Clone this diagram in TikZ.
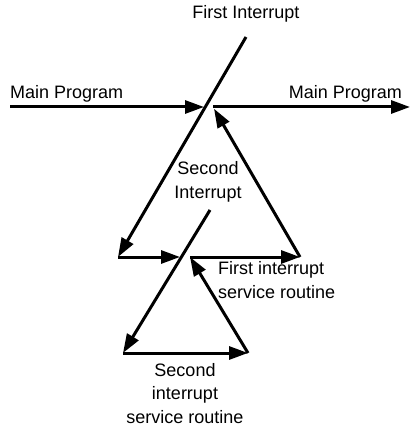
\documentclass[tikz,border=0pt]{standalone}
\usepackage{fontspec}
\setmainfont{Liberation Sans}
\usetikzlibrary{arrows.meta, positioning}

\begin{document}
\begin{tikzpicture}[x=1pt, y=-1pt,
    flow/.style={-{Triangle[length=19pt, width=13pt]}, line width=3pt},
    lbl/.style={font=\fontsize{18}{23.5}\selectfont, inner sep=0pt}]
  \useasboundingbox (0,0) rectangle (414,430);

  % points on the main program and the two routines
  \coordinate (mainIn)   at (10,107);
  \coordinate (int1)     at (204,107);
  \coordinate (resume1)  at (213,107);
  \coordinate (mainOut)  at (410,107);
  \coordinate (int1Top)  at (246,37);
  \coordinate (isr1In)   at (118,257);
  \coordinate (int2)     at (180,257);
  \coordinate (resume2)  at (190,257);
  \coordinate (isr1Out)  at (300,257);
  \coordinate (int2Top)  at (210,210);
  \coordinate (isr2In)   at (123,353);
  \coordinate (isr2Out)  at (248,353);

  % labels (base = last line)
  \node[lbl, anchor=base] (lblInt1) at (246,19) {First Interrupt};
  \node[lbl, anchor=base west] (lblMainL) at (10,99) {Main Program};
  \node[lbl, anchor=base east] (lblMainR) at (402,99) {Main Program};
  \node[lbl, align=center, anchor=base] (lblInt2) at (208,198) {Second\\Interrupt};
  \node[lbl, align=left, anchor=base west] (lblIsr1) at (218,298) {First interrupt\\service routine};
  \node[lbl, align=center, anchor=base] (lblIsr2) at (185,423) {Second\\interrupt\\service routine};

  % flow
  \draw[flow] (mainIn) -- (int1);
  \draw[flow] (resume1) -- (mainOut);
  \draw[flow] (int1Top) -- (isr1In);
  \draw[flow] (isr1In) -- (int2);
  \draw[flow] (resume2) -- (isr1Out);
  \draw[flow, shorten >=2pt] (isr1Out) -- (resume1);
  \draw[flow] (int2Top) -- (isr2In);
  \draw[flow] (isr2In) -- (isr2Out);
  \draw[flow] (isr2Out) -- (resume2);
\end{tikzpicture}
\end{document}
